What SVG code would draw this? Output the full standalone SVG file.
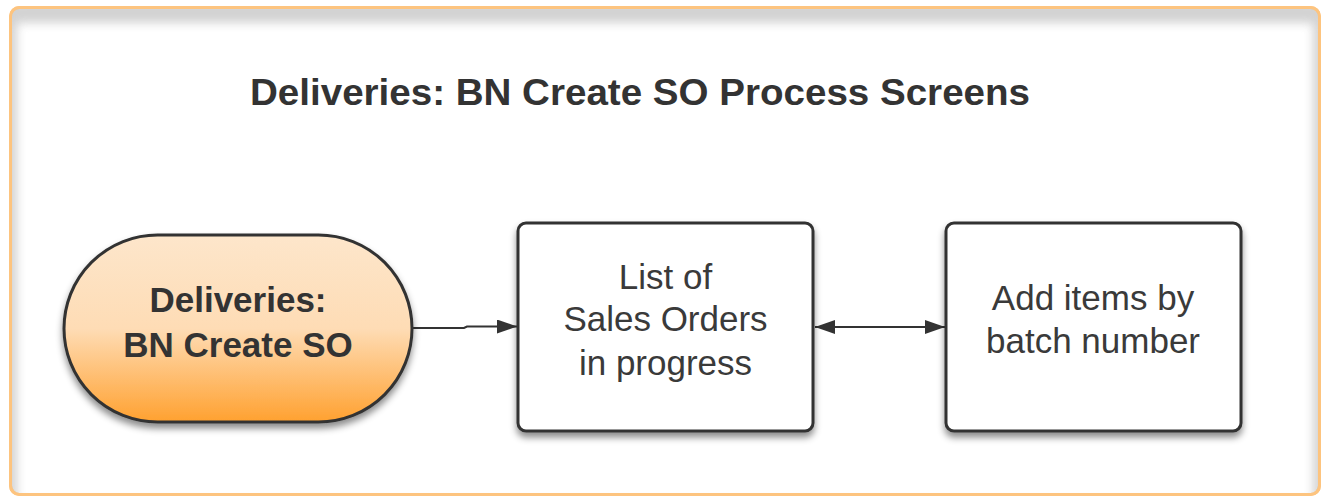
<svg xmlns="http://www.w3.org/2000/svg" width="1325" height="497" viewBox="0 0 1325 497">
<defs>
<style>
.frame{fill:#ffffff;stroke:#fdc47f;stroke-width:3}
.box{fill:#ffffff;stroke:#333333;stroke-width:3}
.term{fill:url(#orangeGrad);stroke:#333333;stroke-width:3}
.title{font-family:"Liberation Sans",Arial,sans-serif;font-weight:bold;font-size:36px;fill:#333333}
.bold{font-family:"Liberation Sans",Arial,sans-serif;font-weight:bold;font-size:35px;fill:#333333}
.label{font-family:"Liberation Sans",Arial,sans-serif;font-size:35px;fill:#3a3a3a}
.conn{fill:none;stroke:#333333;stroke-width:2}
</style>
<linearGradient id="orangeGrad" x1="0" y1="0" x2="0" y2="1">
<stop offset="0" stop-color="#fde6cb"/>
<stop offset="0.5" stop-color="#fedcb5"/>
<stop offset="1" stop-color="#ffa130"/>
</linearGradient>
<filter id="shadow" x="-10%" y="-10%" width="120%" height="130%">
<feDropShadow dx="0" dy="5" stdDeviation="3.5" flood-color="#000000" flood-opacity="0.45"/>
</filter>
<filter id="blur" x="-5%" y="-5%" width="110%" height="110%">
<feGaussianBlur stdDeviation="5"/>
</filter>
<clipPath id="frameClip">
<rect x="10.5" y="7.5" width="1309" height="487" rx="9"/>
</clipPath>
<marker id="arrow" viewBox="0 0 20 14" markerWidth="20" markerHeight="14" refX="20" refY="7" markerUnits="userSpaceOnUse" orient="auto-start-reverse">
<path d="M0,0 L20,7 L0,14 Z" fill="#333333"/>
</marker>
</defs>
<rect width="1325" height="497" fill="#ffffff"/>
<g id="frame">
<rect class="frame" x="10.5" y="7.5" width="1309" height="487" rx="9"/>
<g clip-path="url(#frameClip)">
<rect x="6" y="12" width="1318" height="500" rx="12" fill="none" stroke="#c8c8c8" stroke-width="22" filter="url(#blur)" opacity="0.8"/>
</g>
<rect x="10.5" y="7.5" width="1309" height="487" rx="9" fill="none" stroke="#fdc47f" stroke-width="3"/>
</g>
<g id="title">
<text class="title" x="640" y="105" text-anchor="middle" textLength="780" lengthAdjust="spacingAndGlyphs">Deliveries: BN Create SO Process Screens</text>
</g>
<g id="connectors">
<path class="conn" d="M412,328 H464 L467,326.5 H517" marker-end="url(#arrow)"/>
<line class="conn" x1="815" y1="327" x2="945" y2="327" marker-start="url(#arrow)" marker-end="url(#arrow)"/>
</g>
<g id="node-start">
<rect class="term" x="64" y="235" width="348" height="187" rx="93.5" filter="url(#shadow)"/>
<text class="bold" x="238" y="312" text-anchor="middle">Deliveries:</text>
<text class="bold" x="238" y="357" text-anchor="middle">BN Create SO</text>
</g>
<g id="node-list">
<rect class="box" x="518" y="223" width="295" height="208" rx="8" filter="url(#shadow)"/>
<text class="label" x="665.5" y="289" text-anchor="middle">List of</text>
<text class="label" x="665.5" y="331" text-anchor="middle">Sales Orders</text>
<text class="label" x="665.5" y="375" text-anchor="middle">in progress</text>
</g>
<g id="node-add">
<rect class="box" x="946" y="223" width="295" height="208" rx="8" filter="url(#shadow)"/>
<text class="label" x="1093" y="310" text-anchor="middle">Add items by</text>
<text class="label" x="1093" y="353" text-anchor="middle">batch number</text>
</g>
</svg>
